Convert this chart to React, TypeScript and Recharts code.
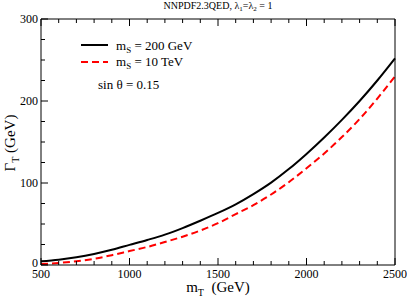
import { LineChart, Line, XAxis, YAxis } from 'recharts';

// top mass m_T (GeV)
const massT = [500, 600, 700, 800, 900, 1000, 1100, 1200, 1300, 1400, 1500, 1600, 1700, 1800, 1900, 2000, 2100, 2200, 2300, 2400, 2500];
// Gamma_T for m_S = 200 GeV
const widthLightS = [4.5, 6.5, 9.5, 13.5, 18.5, 24.5, 30.5, 37, 45, 54, 63.5, 74, 86.5, 100.5, 117, 135.5, 155.5, 177, 200, 225, 252];
// Gamma_T for m_S = 10 TeV
const widthHeavyS = [1.2, 2.5, 4.5, 7.5, 12, 17, 22, 28, 34.5, 42, 51, 62, 73, 86, 101, 118, 136, 156, 178, 203, 230];

const xTicks = [500, 600, 700, 800, 900, 1000, 1100, 1200, 1300, 1400, 1500, 1600, 1700, 1800, 1900, 2000, 2100, 2200, 2300, 2400, 2500];
const xLabels = [500, 1000, 1500, 2000, 2500];
const yTicks = [0, 25, 50, 75, 100, 125, 150, 175, 200, 225, 250, 275, 300];
const yLabels = [0, 100, 200, 300];

const data = massT.map((m, i) => ({ m, light: widthLightS[i], heavy: widthHeavyS[i] }));

const serif = '"Liberation Serif", "Times New Roman", serif';

// subscript that does not grow the line box
const Sub = ({ children, size, drop }: any) => (
  <span style={{ fontSize: size, position: 'relative', top: drop }}>{children}</span>
);

// ticks point into the plot, labels only on major ticks
function BottomTick({ x, y, payload }: any) {
  const major = xLabels.includes(payload.value);
  return (
    <g>
      <line x1={x} x2={x} y1={y} y2={y - (major ? 7 : 4)} stroke="#000" />
      {major && (
        <text x={x} y={y + 13} textAnchor="middle" fontSize={12} fontFamily={serif} fill="#000">
          {payload.value}
        </text>
      )}
    </g>
  );
}

function TopTick({ x, y, payload }: any) {
  const major = xLabels.includes(payload.value);
  return <line x1={x} x2={x} y1={y} y2={y + (major ? 7 : 4)} stroke="#000" />;
}

function LeftTick({ x, y, payload }: any) {
  const major = yLabels.includes(payload.value);
  return (
    <g>
      <line x1={x} x2={x + (major ? 7 : 4)} y1={y} y2={y} stroke="#000" />
      {major && (
        <text x={x - 3} y={y + (payload.value === 0 ? 2 : 3.5)} textAnchor="end" fontSize={12} fontFamily={serif} fill="#000">
          {payload.value}
        </text>
      )}
    </g>
  );
}

function RightTick({ x, y, payload }: any) {
  const major = yLabels.includes(payload.value);
  return <line x1={x} x2={x - (major ? 7 : 4)} y1={y} y2={y} stroke="#000" />;
}

function LegendBox() {
  const row = { display: 'flex', alignItems: 'center', height: 16.5 };
  return (
    <div
      style={{
        position: 'absolute', left: 80, top: 37, fontFamily: serif, fontSize: 13,
        color: '#000', lineHeight: 1,
      }}
    >
      <div style={row}>
        <svg width={30} height={6}>
          <line x1={1} x2={28} y1={3} y2={3} stroke="#000" strokeWidth={2} />
        </svg>
        <span style={{ marginLeft: 6 }}>
          m<Sub size={9} drop={3}>S</Sub> = 200 GeV
        </span>
      </div>
      <div style={row}>
        <svg width={30} height={6}>
          <line x1={1} x2={28} y1={3} y2={3} stroke="#ff0000" strokeWidth={2} strokeDasharray="7 4" />
        </svg>
        <span style={{ marginLeft: 6 }}>
          m<Sub size={9} drop={3}>S</Sub> = 10 TeV
        </span>
      </div>
      <div style={{ ...row, marginTop: 6, marginLeft: 18 }}>sin θ = 0.15</div>
    </div>
  );
}

export default function App() {
  return (
    <div style={{ position: 'absolute', left: 0, top: 0, width: 407, height: 297, background: '#fff' }}>
      <div
        style={{
          position: 'absolute', left: 0, width: 436, top: 0, textAlign: 'center',
          fontFamily: serif, fontSize: 10, lineHeight: '12px', color: '#000',
        }}
      >
        NNPDF2.3QED, λ<Sub size={7} drop={2}>1</Sub>=λ<Sub size={7} drop={2}>2</Sub> = 1
      </div>
      <LineChart width={407} height={297} data={data} margin={{ top: 18, right: 11, bottom: 31, left: 40 }}>
        <XAxis
          xAxisId="bottom"
          dataKey="m"
          type="number"
          domain={[500, 2500]}
          ticks={xTicks}
          interval={0}
          height={1}
          tickSize={0}
          tickMargin={0}
          tick={<BottomTick />}
          axisLine={{ stroke: '#000' }}
          tickLine={false}
        />
        <XAxis
          xAxisId="top"
          orientation="top"
          dataKey="m"
          type="number"
          domain={[500, 2500]}
          ticks={xTicks}
          interval={0}
          height={1}
          tickSize={0}
          tickMargin={0}
          tick={<TopTick />}
          axisLine={{ stroke: '#000' }}
          tickLine={false}
        />
        <YAxis
          yAxisId="left"
          type="number"
          domain={[0, 300]}
          ticks={yTicks}
          interval={0}
          width={1}
          tickSize={0}
          tickMargin={0}
          tick={<LeftTick />}
          axisLine={{ stroke: '#000' }}
          tickLine={false}
        />
        <YAxis
          yAxisId="right"
          orientation="right"
          type="number"
          domain={[0, 300]}
          ticks={yTicks}
          interval={0}
          width={1}
          tickSize={0}
          tickMargin={0}
          tick={<RightTick />}
          axisLine={{ stroke: '#000' }}
          tickLine={false}
        />
        <Line
          xAxisId="bottom"
          yAxisId="left"
          dataKey="light"
          type="monotone"
          stroke="#000"
          strokeWidth={2}
          dot={false}
          isAnimationActive={false}
        />
        <Line
          xAxisId="bottom"
          yAxisId="left"
          dataKey="heavy"
          type="monotone"
          stroke="#ff0000"
          strokeWidth={2}
          strokeDasharray="7 4"
          dot={false}
          isAnimationActive={false}
        />
      </LineChart>
      <LegendBox />
      <div
        style={{
          position: 'absolute', left: 118, width: 200, top: 280, textAlign: 'center',
          fontFamily: serif, fontSize: 15, lineHeight: '15px', color: '#000', whiteSpace: 'pre',
        }}
      >
        m<Sub size={10} drop={4}>T</Sub>  (GeV)
      </div>
      <div
        style={{
          position: 'absolute', left: 11, top: 142, width: 120, marginLeft: -60, marginTop: -8,
          textAlign: 'center', transform: 'rotate(-90deg)', fontFamily: serif, fontSize: 15,
          lineHeight: '16px', color: '#000', whiteSpace: 'pre',
        }}
      >
        Γ<Sub size={10} drop={4}>T</Sub> (GeV)
      </div>
    </div>
  );
}
